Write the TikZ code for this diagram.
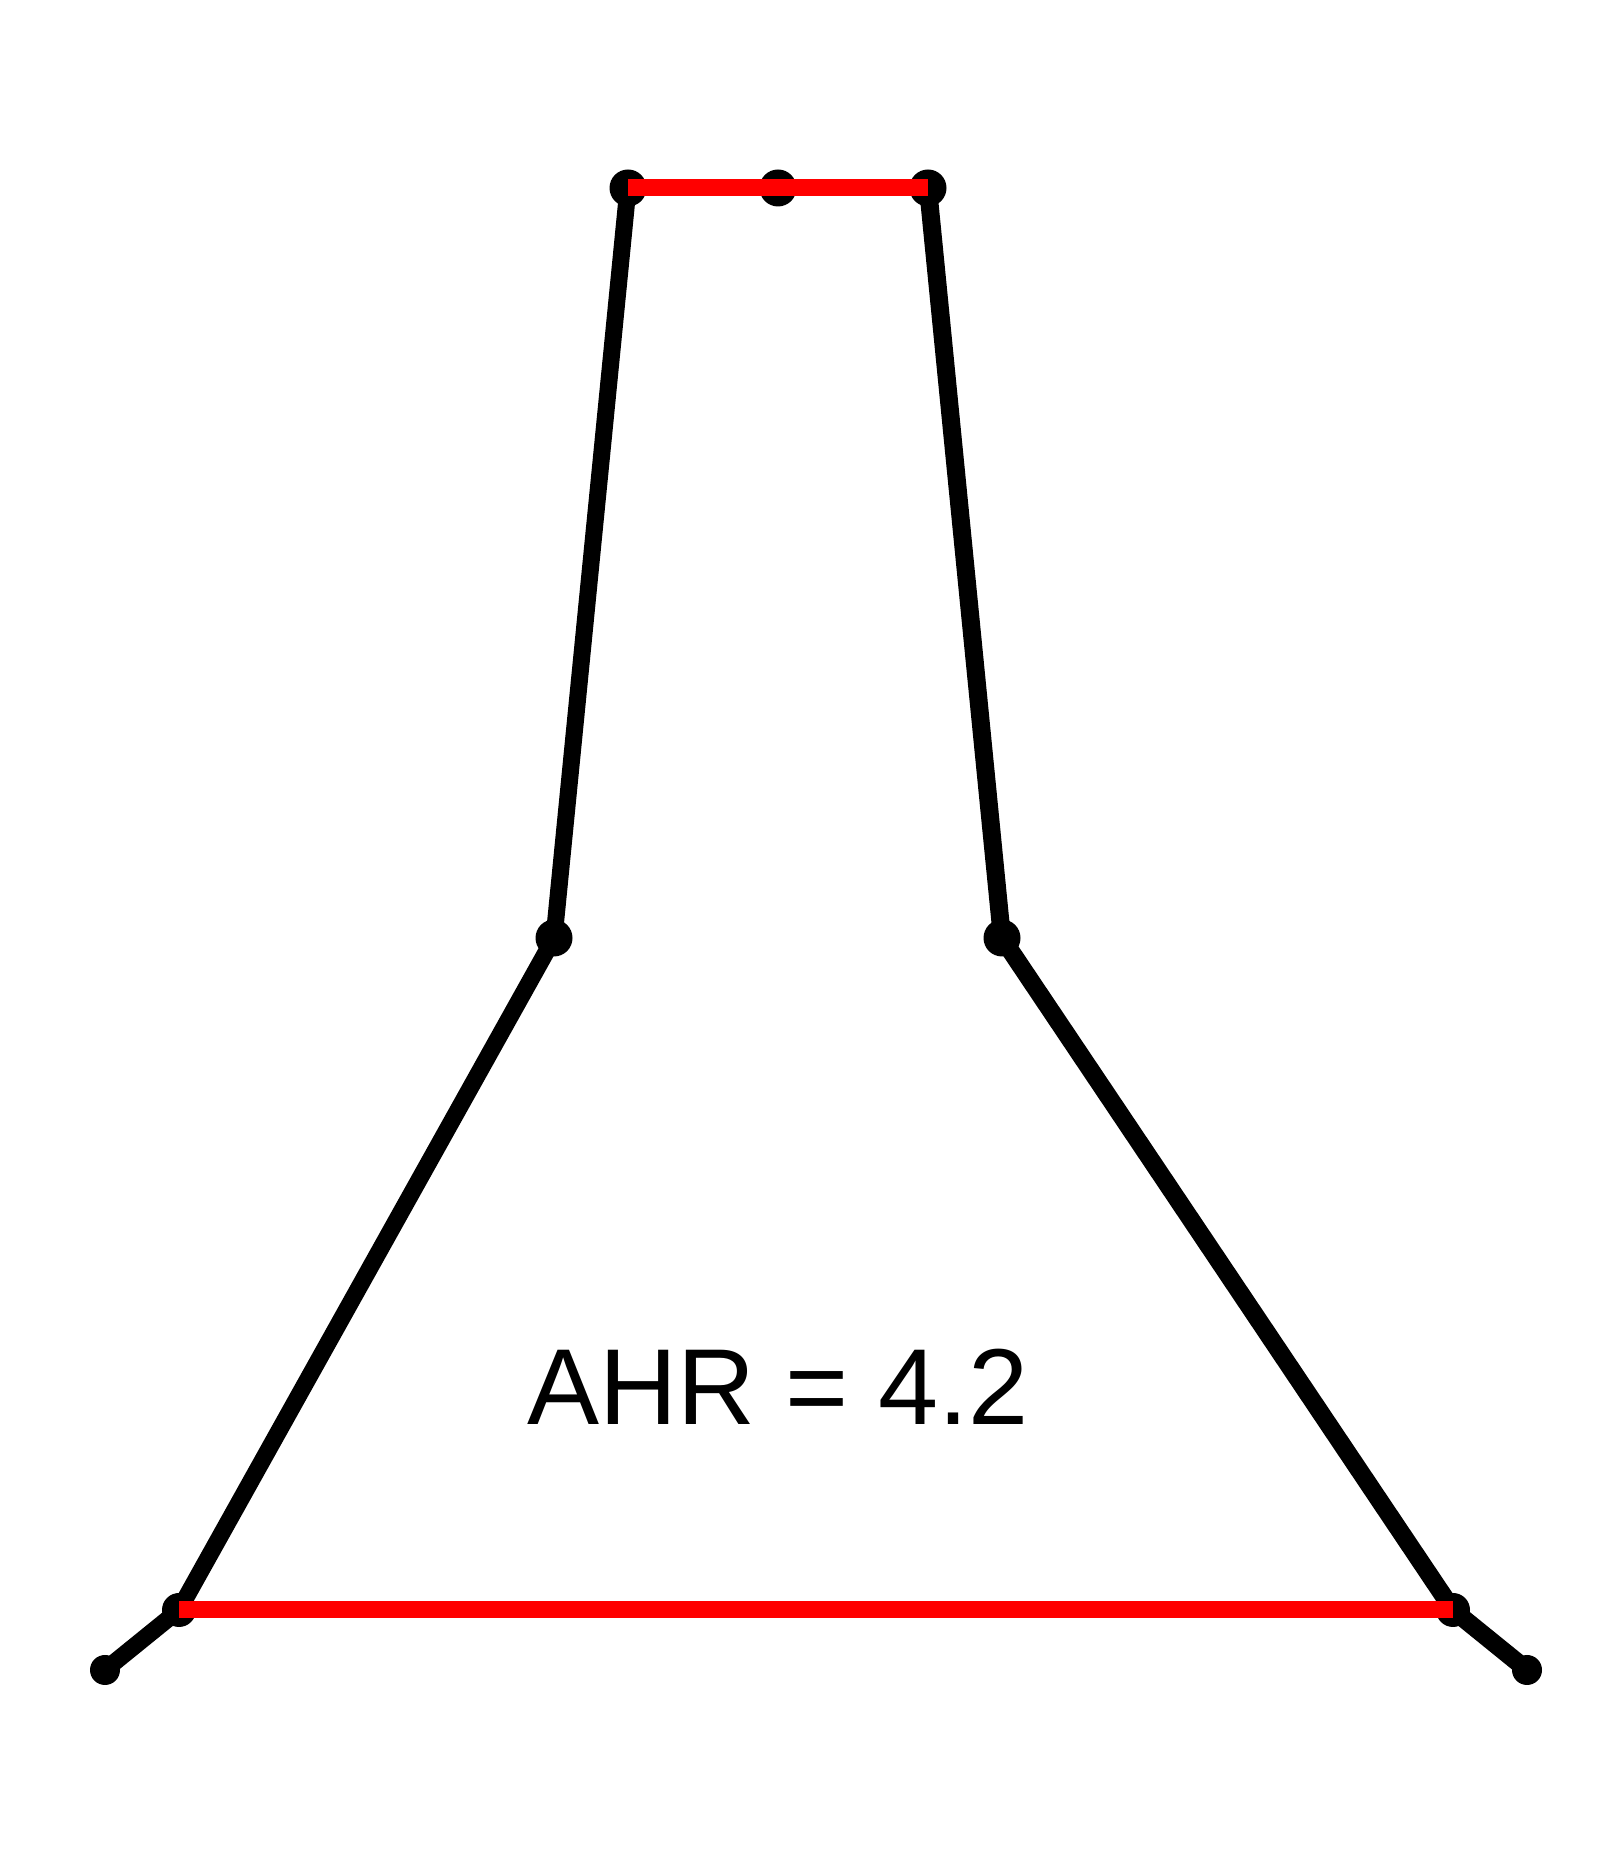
\documentclass[tikz,border=0pt]{standalone}
\usepackage{fontspec}
\setmainfont{Liberation Sans}
\begin{document}
\begin{tikzpicture}[x=1pt,y=1pt,
  edge/.style={line width=17pt, black, line cap=butt, line join=miter},
  bar/.style={line width=17pt, red!100, line cap=butt},
  bigdot/.style={circle, fill=black, inner sep=0pt, minimum size=37pt},
  middot/.style={circle, fill=black, inner sep=0pt, minimum size=34pt},
  enddot/.style={circle, fill=black, inner sep=0pt, minimum size=30pt}]
\useasboundingbox (0,0) rectangle (1621,1871);
\fill[white] (0,0) rectangle (1621,1871);
% points (y = 1871 - ypx)
\coordinate (tl) at (628,1683);
\coordinate (tm) at (778,1683);
\coordinate (tr) at (928,1683);
\coordinate (ml) at (554,933);
\coordinate (mr) at (1002,933);
\coordinate (bl) at (179,261);
\coordinate (br) at (1453,261);
\coordinate (el) at (105,201);
\coordinate (er) at (1527,201);
% black outline
\draw[edge] (el) -- (bl) -- (ml) -- (tl);
\draw[edge, line width=18pt] (er) -- (br) -- (mr) -- (tr);
% dots
\node[bigdot] (ntl) at (tl) {};
\node[bigdot] (ntm) at (tm) {};
\node[bigdot] (ntr) at (tr) {};
\node[bigdot] (nml) at (ml) {};
\node[bigdot] (nmr) at (mr) {};
\node[middot] (nbl) at (bl) {};
\node[middot] (nbr) at (br) {};
\node[enddot] (nel) at (el) {};
\node[enddot] (ner) at (er) {};
% red bars
\draw[bar] (ntl.center) -- (ntr.center);
\draw[bar] (nbl.center) -- (nbr.center);
% label
\node[anchor=base west, inner sep=0pt, font=\fontsize{108}{108}\selectfont] (lab) at (527,446) {AHR = 4.2};
\end{tikzpicture}
\end{document}
